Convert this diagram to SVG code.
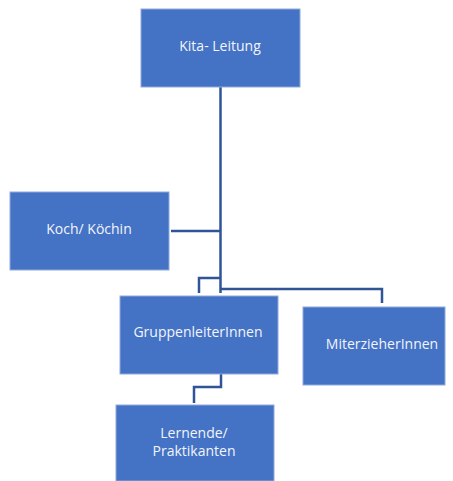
<svg xmlns="http://www.w3.org/2000/svg" width="453" height="481" viewBox="0 0 453 481">
<style>
.box{fill:#4472C4;stroke:#8FAADC;stroke-width:1}
.lbl{fill:#F2F5FB;font-family:"Open Sans","Liberation Sans",Arial,sans-serif;font-size:14px;text-anchor:middle;dominant-baseline:central}
.con{fill:none;stroke:#2F5597;stroke-width:2.5}
</style>
<rect width="453" height="481" fill="#FFFFFF"/>
<g id="connectors">
<path class="con" d="M220.5,87 V293"/>
<path class="con" d="M171,231 H220.5"/>
<path class="con" d="M220.5,278 H199 V293"/>
<path class="con" d="M220.5,289 H382 V303"/>
<path class="con" d="M221,374 V387 H194 V403"/>
</g>
<g id="kita"><rect class="box" x="141" y="9" width="159" height="78"/><text class="lbl" x="220" y="45">Kita- Leitung</text></g>
<g id="koch"><rect class="box" x="10" y="192" width="159" height="78"/><text class="lbl" x="89" y="228">Koch/ Köchin</text></g>
<g id="gruppen"><rect class="box" x="120" y="296" width="158" height="78"/><text class="lbl" x="198" y="331">GruppenleiterInnen</text></g>
<g id="miter"><rect class="box" x="303" y="307" width="142" height="78"/><text class="lbl" x="382" y="343">MiterzieherInnen</text></g>
<g id="lernende"><rect class="box" x="116" y="405" width="158" height="76"/><text class="lbl" x="194" y="432">Lernende/</text><text class="lbl" x="194" y="450">Praktikanten</text></g>
</svg>
